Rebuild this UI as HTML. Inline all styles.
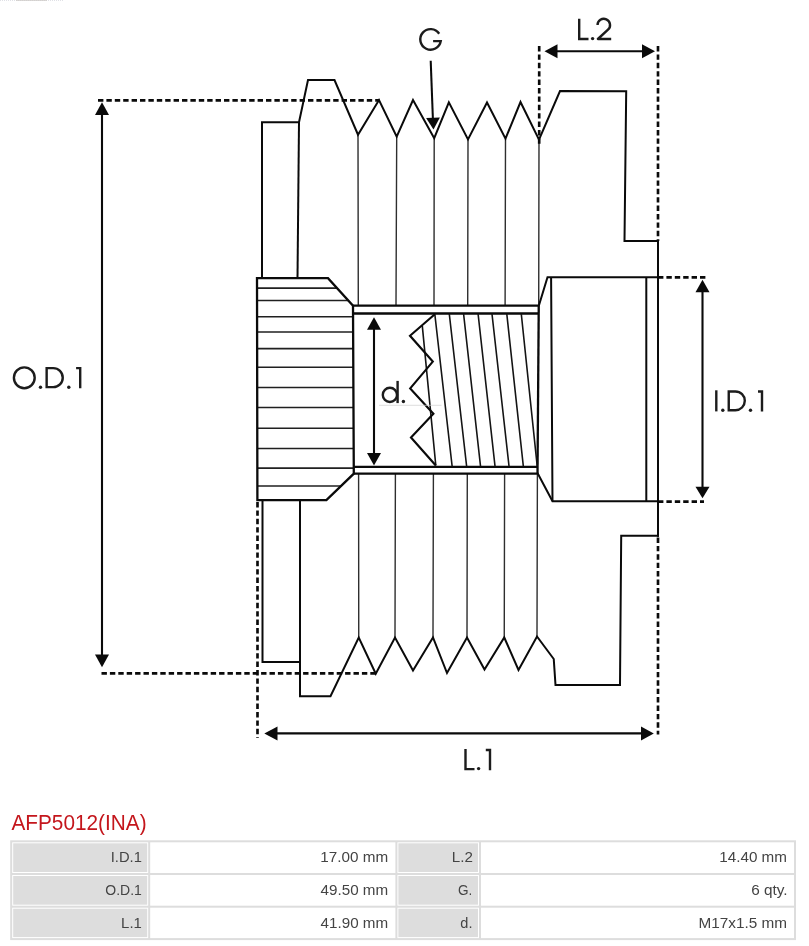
<!DOCTYPE html>
<html>
<head>
<meta charset="utf-8">
<title>AFP5012(INA)</title>
<style>
  html, body { margin: 0; padding: 0; background: #ffffff; }
  body { width: 809px; height: 946px; overflow: hidden; font-family: "Liberation Sans", sans-serif; }
  svg { display: block; position: absolute; left: 0; top: 0; }
  .o  { fill: none; stroke: #0a0a0a; stroke-width: 2; stroke-linejoin: miter; stroke-linecap: butt; }
  .t  { fill: none; stroke: #2e2e2e; stroke-width: 1.4; }
  .th { fill: none; stroke: #141414; stroke-width: 1.6; }
  .o2 { fill: none; stroke: #0a0a0a; stroke-width: 2.3; stroke-linejoin: miter; stroke-linecap: butt; }
  .k  { fill: none; stroke: #202020; stroke-width: 1.55; }
  .d  { fill: none; stroke: #0a0a0a; stroke-width: 2.65; stroke-dasharray: 5.4 3; }
  .a  { fill: none; stroke: #0a0a0a; stroke-width: 2.1; }
  .h  { fill: #0a0a0a; stroke: none; }
  .g  { fill: none; stroke: #1c1c1c; stroke-width: 2.4; stroke-linejoin: miter; stroke-linecap: butt; }
  .gd { fill: #1c1c1c; stroke: none; }
    .lab { font-family: "Liberation Sans", sans-serif; font-size: 14.5px; fill: #444444; text-anchor: end; }
  .ttl { font-family: "Liberation Sans", sans-serif; font-size: 21.4px; fill: #c4161c; }
</style>
</head>
<body>
<svg width="809" height="946" viewBox="0 0 809 946">
  <defs>
    <filter id="gray" x="0" y="0" width="100%" height="100%" filterUnits="userSpaceOnUse" color-interpolation-filters="sRGB"><feColorMatrix type="matrix" values="1 0 0 0 0  0 1 0 0 0  0 0 1 0 0  0 0 0 1 0"/></filter>
    <clipPath id="hubclip">
      <polygon points="257,278.2 328,278.2 353,305.6 353.8,473.7 326.4,500.2 257.4,500.2"/>
    </clipPath>
  </defs>
  <rect x="0" y="0" width="809" height="946" fill="#ffffff"/>

  <!-- faint artifact along the very top edge -->
  <g id="edge-artifact">
    <path d="M0,0.3 H64" fill="none" stroke="#d4d6dc" stroke-width="0.9" stroke-dasharray="1 1"/>
    <path d="M16,0.3 H47" fill="none" stroke="#cdc9c6" stroke-width="0.9"/>
  </g>

  <!-- ============ PULLEY DRAWING ============ -->
  <g id="drawing">
    <!-- thin groove lines (upper) -->
    <path class="t" d="M358,134.7 L358.3,305.6 M396.7,136.7 L396,305.6 M434.2,138.2 L434,305.6 M468,139.4 L467.7,305.6 M505.5,138.7 L505.1,305.6 M539,139.7 L538.7,305.6"/>
    <!-- thin groove lines (lower) -->
    <path class="t" d="M358.6,473.7 L358.75,637.5 M395.4,473.7 L395,637.5 M433.4,473.7 L433,637.5 M467.3,473.7 L467,637.5 M504.6,473.7 L504.25,637.5 M537.4,473.7 L537,636.5"/>

    <!-- upper outline -->
    <path class="o" d="M262,278.2 L262,122.3 L299,122.3 L308,80 L334.5,80 L358,134.7 L379,100 L396.7,136.7 L413,100 L434.2,138.2 L448.85,102.4 L468,139.4 L487,102.5 L505.5,138.7 L520.5,102 L539,139.7 L560,91 L626.2,91.3 L624.5,241 L659,241"/>
    <path class="o" d="M299,122.3 L297.5,278.2"/>
    <!-- right face -->
    <path class="o" d="M658,240 L658,536.8"/>
    <!-- lower outline -->
    <path class="o" d="M659,535.8 L621.2,535.8 L620,685 L555.5,685 L553.75,659 L537,636.5 L518.5,670 L504.25,637.5 L484.5,669.5 L467,637.5 L447,673 L433,637.5 L413,670.5 L395,637.5 L375.75,673.75 L358.75,637.5 L330.5,696.25 L300,696.25 L300,500.2"/>
    <path class="o" d="M262.5,500.2 L262.5,662 L300,662"/>

    <!-- hub (knurled) -->
    <g clip-path="url(#hubclip)">
      <path class="k" d="M250,288.1 H360 M250,300.4 H360 M250,316.7 H360 M250,332 H360 M250,348.6 H360 M250,367.2 H360 M250,387.5 H360 M250,407.5 H360 M250,428.3 H360 M250,448.5 H360 M250,468.1 H360 M250,485.9 H360"/>
    </g>
    <polygon class="o2" points="257,278.2 328,278.2 353,305.6 353.8,473.7 326.4,500.2 257.4,500.2"/>

    <!-- shaft -->
    <path class="o2" d="M353,305.6 L538.7,305.6 M353,313.5 L538.5,313.5 M353.8,466.8 L537.7,466.8 M353.8,473.7 L537.5,473.7"/>
    <path class="o2" d="M538.75,305.6 L537.5,473.7"/>

    <!-- bore on the right -->
    <path class="o" d="M538.75,306 L547.5,277.2 L659,277.2"/>
    <path class="o" d="M537.5,473 L552.5,501.3 L659,501.3"/>
    <path class="o" d="M551.1,277.2 L552.5,501.3 M646.3,277.2 L646.3,501.3"/>

    <!-- internal thread -->
    <path class="th" d="M422.3,325.8 L435.8,465.5 M434.8,314 L452.1,466 M449.3,314 L466.6,466 M463.6,314 L480.5,466 M478.1,314 L495,466 M492,314 L509,466 M506.8,314 L523.3,466 M521.3,314 L537.2,466"/>
    <path class="o" style="stroke-width:2.15" d="M434.8,314.3 L410,335.8 L432.8,361.6 L410.2,388.4 L433.4,413.7 L411,437.5 L435.8,465.5"/>
    <path d="M379,405.3 H441.5" fill="none" stroke="#cfcfcf" stroke-width="0.7"/>
  </g>

  <!-- ============ DIMENSIONS ============ -->
  <g id="dims">
    <!-- O.D.1 -->
    <path class="d" d="M98,100.4 H379.5"/>
    <path class="d" d="M101.5,673.3 H376"/>
    <path class="a" d="M102,112 V658"/>
    <polygon class="h" points="102,102.3 95,115 109,115"/>
    <polygon class="h" points="102,667.2 95,654.6 109,654.6"/>

    <!-- L.2 -->
    <path class="d" d="M539.2,46 V145"/>
    <path class="d" d="M658,46 V241"/>
    <path class="a" d="M555,51.3 H645"/>
    <polygon class="h" points="544.5,51.3 557.5,44.3 557.5,58.3"/>
    <polygon class="h" points="655,51.3 642,44.3 642,58.3"/>

    <!-- L.1 -->
    <path class="d" d="M257.5,502 V738"/>
    <path class="d" d="M658,537.5 V734.5"/>
    <path class="a" d="M275,733.4 H643"/>
    <polygon class="h" points="264.3,733.4 277.5,726.4 277.5,740.4"/>
    <polygon class="h" points="653.8,733.4 641,726.4 641,740.4"/>

    <!-- I.D.1 -->
    <path class="d" d="M658,277.4 H705.5"/>
    <path class="d" d="M658,501.6 H704"/>
    <path class="a" d="M702.5,290 V489"/>
    <polygon class="h" points="702.5,279.8 695.5,292.3 709.5,292.3"/>
    <polygon class="h" points="702.5,498.3 695.5,486.8 709.5,486.8"/>

    <!-- d. -->
    <path class="a" d="M374,328 V455"/>
    <polygon class="h" points="374,317.2 367,329.8 381,329.8"/>
    <polygon class="h" points="374,465.4 367,453 381,453"/>

    <!-- G pointer -->
    <path class="a" style="stroke-width:2.05" d="M430.7,60.7 L432.9,119"/>
    <polygon class="h" points="433.5,129.4 426.1,118 439.9,117.6"/>
  </g>

  <!-- ============ DIAGRAM LABELS (drawn glyphs) ============ -->
  <g id="labels">
    <!-- O.D.1 -->
    <circle class="g" cx="24.3" cy="377.8" r="10.4"/>
    <circle class="gd" cx="40.5" cy="387.2" r="1.7"/>
    <path class="g" d="M46.65,368.15 L53.25,368.15 A9.5,9.5 0 0 1 53.25,387.15 L46.65,387.15 Z"/>
    <circle class="gd" cx="68.8" cy="387.2" r="1.7"/>
    <path class="g" d="M76.1,368.15 L80.2,368.15 L80.2,388.3"/>

    <!-- I.D.1 -->
    <path class="g" d="M716.3,390.3 V411.4"/>
    <circle class="gd" cx="722.8" cy="410.2" r="1.7"/>
    <path class="g" d="M728.75,391.45 L735.4,391.45 A9.4,9.4 0 0 1 735.4,410.25 L728.75,410.25 Z"/>
    <circle class="gd" cx="750.5" cy="410.2" r="1.7"/>
    <path class="g" d="M758,391.45 L762,391.45 L762,411.4"/>

    <!-- G -->
    <path class="g" d="M439.2,33.75 A10.3,10.3 0 1 0 440.75,41.1 L433.1,41.1"/>

    <!-- L.2 -->
    <path class="g" d="M579.2,18.8 L579.2,39 L588.5,39"/>
    <circle class="gd" cx="592.6" cy="38.6" r="1.7"/>
    <path class="g" style="stroke-linejoin:round" d="M597.55,25.1 A6.25,6.25 0 1 1 608,29.7 L597.9,39 L611.2,39"/>

    <!-- L.1 -->
    <path class="g" d="M465.5,748.9 L465.5,769.1 L474.5,769.1"/>
    <circle class="gd" cx="478.6" cy="768.6" r="1.7"/>
    <path class="g" d="M485.8,750.05 L490,750.05 L490,770.2"/>

    <!-- d. -->
    <circle class="g" cx="389.9" cy="394.9" r="7.1"/>
    <path class="g" d="M397.6,380.9 V403.1"/>
    <circle class="gd" cx="403.4" cy="401.5" r="1.7"/>
  </g>

  <!-- ============ TITLE + TABLE ============ -->
  <g id="table" filter="url(#gray)">
    <text class="ttl" transform="translate(11.4,829.9) scale(0.972,1)">AFP5012(INA)</text>

    <!-- table frame (grey) -->
    <rect x="10.2" y="840.3" width="785.8" height="99.8" fill="#dddddd"/>
    <!-- row 1 -->
    <rect x="12.2" y="842.3" width="136" height="30.7" fill="#ffffff"/><rect x="13.2" y="843.3" width="134" height="28.7" fill="#dddddd"/>
    <rect x="150.2" y="842.3" width="245.2" height="30.7" fill="#ffffff"/>
    <rect x="397.4" y="842.3" width="81.6" height="30.7" fill="#ffffff"/><rect x="398.4" y="843.3" width="79.6" height="28.7" fill="#dddddd"/>
    <rect x="481" y="842.3" width="313" height="30.7" fill="#ffffff"/>
    <!-- row 2 -->
    <rect x="12.2" y="875" width="136" height="30.7" fill="#ffffff"/><rect x="13.2" y="876" width="134" height="28.7" fill="#dddddd"/>
    <rect x="150.2" y="875" width="245.2" height="30.7" fill="#ffffff"/>
    <rect x="397.4" y="875" width="81.6" height="30.7" fill="#ffffff"/><rect x="398.4" y="876" width="79.6" height="28.7" fill="#dddddd"/>
    <rect x="481" y="875" width="313" height="30.7" fill="#ffffff"/>
    <!-- row 3 -->
    <rect x="12.2" y="907.7" width="136" height="30.4" fill="#ffffff"/><rect x="13.2" y="908.7" width="134" height="28.4" fill="#dddddd"/>
    <rect x="150.2" y="907.7" width="245.2" height="30.4" fill="#ffffff"/>
    <rect x="397.4" y="907.7" width="81.6" height="30.4" fill="#ffffff"/><rect x="398.4" y="908.7" width="79.6" height="28.4" fill="#dddddd"/>
    <rect x="481" y="907.7" width="313" height="30.4" fill="#ffffff"/>

    <text class="lab" transform="translate(141.86,862.0) scale(1.0175,1)">I.D.1</text>
    <text class="lab" transform="translate(388.15,862.0) scale(1.0528,1)">17.00 mm</text>
    <text class="lab" transform="translate(472.88,862.0) scale(1.0466,1)">L.2</text>
    <text class="lab" transform="translate(786.95,862.0) scale(1.0512,1)">14.40 mm</text>
    <text class="lab" transform="translate(141.83,894.9) scale(0.9671,1)">O.D.1</text>
    <text class="lab" transform="translate(388.15,894.9) scale(1.0482,1)">49.50 mm</text>
    <text class="lab" transform="translate(472.37,894.9) scale(0.9358,1)">G.</text>
    <text class="lab" transform="translate(787.62,894.6) scale(1.0585,1)">6 qty.</text>
    <text class="lab" transform="translate(141.87,927.7) scale(1.0301,1)">L.1</text>
    <text class="lab" transform="translate(388.15,927.7) scale(1.0482,1)">41.90 mm</text>
    <text class="lab" transform="translate(472.46,927.6) scale(1.0049,1)">d.</text>
    <text class="lab" transform="translate(786.96,927.7) scale(1.0564,1)">M17x1.5 mm</text>
  </g>
</svg>
</body>
</html>
